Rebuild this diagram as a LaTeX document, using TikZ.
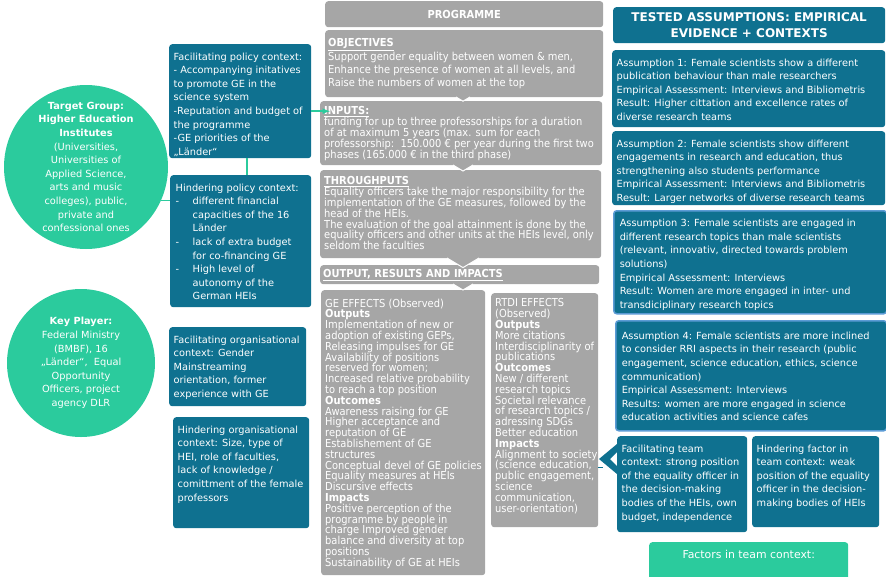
\documentclass[tikz,border=0pt]{standalone}
\usepackage{fontspec}
\setmainfont{DejaVu Sans}
\newfontfamily\condfont[FakeStretch=0.9]{DejaVu Sans}
\usepackage{tikz}
\usetikzlibrary{arrows}
\definecolor{myteal}{HTML}{0F7190}
\definecolor{mygreen}{HTML}{2BCB9D}
\definecolor{mygrey}{HTML}{A6A6A6}
\definecolor{myblue}{HTML}{5B9BD5}

\newcommand{\bluefont}{\fontsize{9.8}{13.6}\selectfont\lineskiplimit=-20pt\relax}
\newcommand{\greyfont}{\condfont\fontsize{11}{10.8}\selectfont\lineskiplimit=-20pt\relax}
\newcommand{\objfont}{\condfont\fontsize{11}{13.3}\selectfont\lineskiplimit=-20pt\relax}
\newcommand{\headfont}{\bfseries\fontsize{12}{16}\selectfont}
\newcommand{\teamfont}{\fontsize{10.9}{13}\selectfont}
\newcommand{\bx}[3]{\parbox[c][#2pt][t]{#1pt}{\raggedright\rightskip=-6pt plus 1fil\relax #3}}
\newcommand{\dashitem}{\makebox[17pt][l]{-}}
\newcommand{\indt}{\hspace*{17pt}}

\tikzset{
  bluebox/.style={fill=myteal, text=white, rounded corners=3pt, inner xsep=4.5pt, inner ysep=8.5pt, anchor=north west, font=\bluefont},
  ringbox/.style={bluebox, draw=myblue, line width=1.5pt, inner xsep=6pt},
  greybox/.style={fill=mygrey, text=white, rounded corners=3pt, inner xsep=4pt, inner ysep=5.5pt, anchor=north west, font=\greyfont},
  greenbox/.style={fill=mygreen, text=white, rounded corners=3pt, inner xsep=4pt, inner ysep=8pt, anchor=north west, font=\teamfont},
  disc/.style={circle, fill=mygreen, inner sep=0pt},
  disctext/.style={text=white, align=center, font=\bluefont},
  gline/.style={mygreen, line width=1.5pt},
  notch/.style={fill=mygrey, draw=white, line width=1pt},
}

\begin{document}
\begin{tikzpicture}[x=1pt,y=-1pt,>=latex]
	\useasboundingbox (0,0) rectangle (886,576);

	% Draw the actors
	\node[disc,minimum size=164pt] (target) at (86,167) {};
	\node[disctext] (targettxt) at (target) {\textbf{Target Group:}\\\textbf{Higher Education}\\\textbf{Institutes}\\(Universities,\\Universities of\\Applied Science,\\arts and music\\colleges), public,\\private and\\confessional ones};
	\node[disc,minimum size=148pt] (player) at (81,363) {};
	\node[disctext] (playertxt) at (player) {\textbf{Key Player:}\\Federal Ministry\\(BMBF), 16\\„Länder“,~~Equal\\Opportunity\\Officers, project\\agency DLR};

	% Draw the context boxes
	\node[bluebox] (facpol) at (169,44) {\bx{133}{97}{Facilitating policy context:\\- Accompanying initatives\\to promote GE in the\\science system\\-Reputation and budget of\\the programme\\-GE priorities of the\\„Länder“}};
	\node[bluebox,inner xsep=5.5pt] (hinpol) at (170,175) {\bx{130}{115}{Hindering policy context:\\\dashitem different financial\\\indt capacities of the 16\\\indt Länder\\\dashitem lack of extra budget\\\indt for co-financing GE\\\dashitem High level of\\\indt autonomy of the\\\indt German HEIs}};
	\node[bluebox] (facorg) at (169,327) {\bx{128}{62}{Facilitating organisational\\context: Gender\\Mainstreaming\\orientation, former\\experience with GE}};
	\node[bluebox] (hinorg) at (173,417) {\bx{127}{94}{Hindering organisational\\context: Size, type of\\HEI, role of faculties,\\lack of knowledge /\\comittment of the female\\professors}};

	% Draw the programme column
	\node[greybox,inner sep=0pt,minimum width=278pt,minimum height=26pt,font=\greyfont\bfseries] (prog) at (325,1) {PROGRAMME};
	\node[greybox,inner xsep=3pt,inner ysep=8.5pt,font=\objfont] (obj) at (325,30) {\bx{272}{50}{\textbf{\underline{OBJECTIVES}}\\Support gender equality between women \& men,\\Enhance the presence of women at all levels, and\\Raise the numbers of women at the top}};
	\node[greybox] (inp) at (320,101) {\bx{274}{53}{\textbf{\underline{INPUTS:}}\\funding for up to three professorships for a duration\\of at maximum 5 years (max. sum for each\\professorship:~~150.000 € per year during the first two\\phases (165.000 € in the third phase)}};
	\node[greybox,inner ysep=6.5pt] (thr) at (320,170) {\bx{273}{75}{\textbf{\underline{THROUGHPUTS}}\\Equality officers take the major responsibility for the\\implementation of the GE measures, followed by the\\head of the HEIs.\\The evaluation of the goal attainment is done by the\\equality officers and other units at the HEIs level, only\\seldom the faculties}};
	\node[greybox,inner xsep=3pt,inner ysep=0pt,minimum height=19pt,text width=273pt] (outh) at (320,265) {\textbf{\underline{OUTPUT, RESULTS AND IMPACTS}}};
	\node[greybox,inner ysep=8.5pt] (ge) at (321,290) {\bx{156}{268}{GE EFFECTS (Observed)\\\textbf{Outputs}\\Implementation of new or\\adoption of existing GEPs,\\Releasing impulses for GE\\Availability of positions\\reserved for women;\\Increased relative probability\\to reach a top position\\\textbf{Outcomes}\\Awareness raising for GE\\Higher acceptance and\\reputation of GE\\Establishement of GE\\structures\\Conceptual devel of GE policies\\Equality measures at HEIs\\Discursive effects\\\textbf{Impacts}\\Positive perception of the\\programme by people in\\charge Improved gender\\balance and diversity at top\\positions\\Sustainability of GE at HEIs}};
	\node[greybox] (rtdi) at (491,293) {\bx{99}{223}{RTDI EFFECTS\\(Observed)\\\textbf{Outputs}\\More citations\\Interdisciplinarity of\\publications\\\textbf{Outcomes}\\New / different\\research topics\\Societal relevance\\of research topics /\\adressing SDGs\\Better education\\\textbf{Impacts}\\Alignment to society\\(science education,\\public engagement,\\science\\communication,\\user-orientation)}};

	% Draw the notches between the stages
	\foreach \y/\w in {97/7,165/10,258/16,284/10}
		\path[notch] ({463-\w},\y) -- (463,{\y+0.6*\w}) -- ({463+\w},\y);

	% Draw the tested assumptions
	\node[bluebox,inner sep=0pt,minimum width=272pt,minimum height=36pt,align=center,font=\headfont] (tested) at (613,7) {TESTED ASSUMPTIONS: EMPIRICAL\\EVIDENCE + CONTEXTS};
	\node[bluebox] (ass1) at (612,50) {\bx{264}{60}{Assumption 1: Female scientists show a different\\publication behaviour than male researchers\\Empirical Assessment: Interviews and Bibliometris\\Result: Higher cittation and excellence rates of\\diverse research teams}};
	\node[bluebox] (ass2) at (612,131) {\bx{264}{57}{Assumption 2: Female scientists show different\\engagements in research and education, thus\\strengthening also students performance\\Empirical Assessment: Interviews and Bibliometris\\Result: Larger networks of diverse research teams}};
	\node[ringbox] (ass3) at (613,210) {\bx{261}{86}{Assumption 3: Female scientists are engaged in\\different research topics than male scientists\\(relevant, innovativ, directed towards problem\\solutions)\\Empirical Assessment: Interviews\\Result: Women are more engaged in inter- und\\transdiciplinary research topics}};
	\node[ringbox,inner ysep=11pt] (ass4) at (615,320) {\bx{259}{88}{Assumption 4: Female scientists are more inclined\\to consider RRI aspects in their research (public\\engagement, science education, ethics, science\\communication)\\Empirical Assessment: Interviews\\Results: women are more engaged in science\\education activities and science cafes}};

	% Draw the team context
	\node[bluebox] (facteam) at (617,436) {\bx{121}{79}{Facilitating team\\context: strong position\\of the equality officer in\\the decision-making\\bodies of the HEIs, own\\budget, independence}};
	\node[bluebox] (hinteam) at (752,436) {\bx{118}{74}{Hindering factor in\\team context: weak\\position of the equality\\officer in the decision-\\making bodies of HEIs}};
	\node[greenbox] (factors) at (649,542) {\bx{191}{24}{\centering Factors in team context:}};

	% Draw the links
	\draw[gline] (target.-24) -- (target.-24 -| hinpol.west);
	\draw[gline] ([xshift=7pt]facpol.south) -- ([xshift=7pt]facpol.south |- hinpol.north);
	\draw[gline,->] ([yshift=-10pt]facpol.east) -- ([yshift=-10pt]facpol.east -| inp.west) -- ++(10,0);

	% Draw the feedback into the team context
	\fill[myteal] (599,459) -- (617,444) -- (617,452) -- (610,459) -- (617,466) -- (617,474) -- cycle;
	\coordinate (chevfoot) at (603,467);
	\draw[myteal,line width=1pt] (chevfoot -| rtdi.east) -- (chevfoot);
\end{tikzpicture}
\end{document}
